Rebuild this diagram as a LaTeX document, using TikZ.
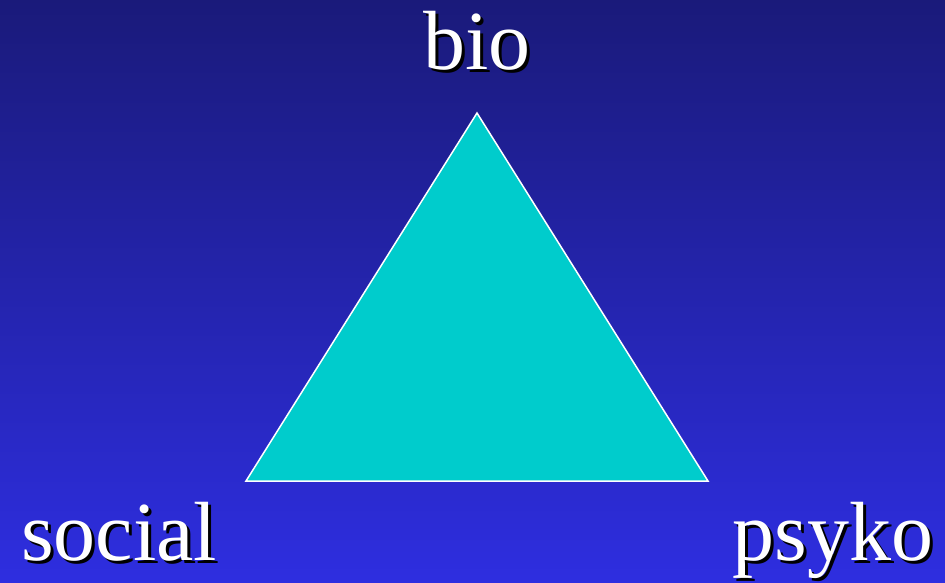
\documentclass[tikz,border=0pt]{standalone}
\usepackage{fontspec}
\setmainfont{Liberation Serif}
\usepackage{xcolor}
\usetikzlibrary{positioning, calc}
\definecolor{slidetop}{HTML}{1A1A7A}
\definecolor{slidebottom}{HTML}{2E2EE0}
\definecolor{trifill}{HTML}{00CCCC}

\tikzset{
  lbl/.style={text=white, inner sep=0pt, anchor=base, font=\fontsize{84}{84}\selectfont},
  lblshadow/.style={lbl, text=black},
}

\begin{document}
\begin{tikzpicture}[x=1pt, y=-1pt]
  % background
  \shade[top color=slidetop, bottom color=slidebottom] (0,0) rectangle (945,583);
  \useasboundingbox (0,0) rectangle (945,583);

  % triangle
  \coordinate (apex) at (477,113);
  \coordinate (left) at (246,481);
  \coordinate (right) at (708,481);
  \draw[white, line width=1.5pt, fill=trifill, line join=miter] (apex) -- (left) -- (right) -- cycle;

  % labels with shadow
  \node[lblshadow] (bio-s) at (480,73) {bio};
  \node[lbl] (bio) at (477,70) {bio};
  \node[lblshadow] (social-s) at (122,563) {social};
  \node[lbl] (social) at (119,560) {social};
  \node[lblshadow] (psyko-s) at (836,563) {psyko};
  \node[lbl] (psyko) at (833,560) {psyko};
\end{tikzpicture}
\end{document}
